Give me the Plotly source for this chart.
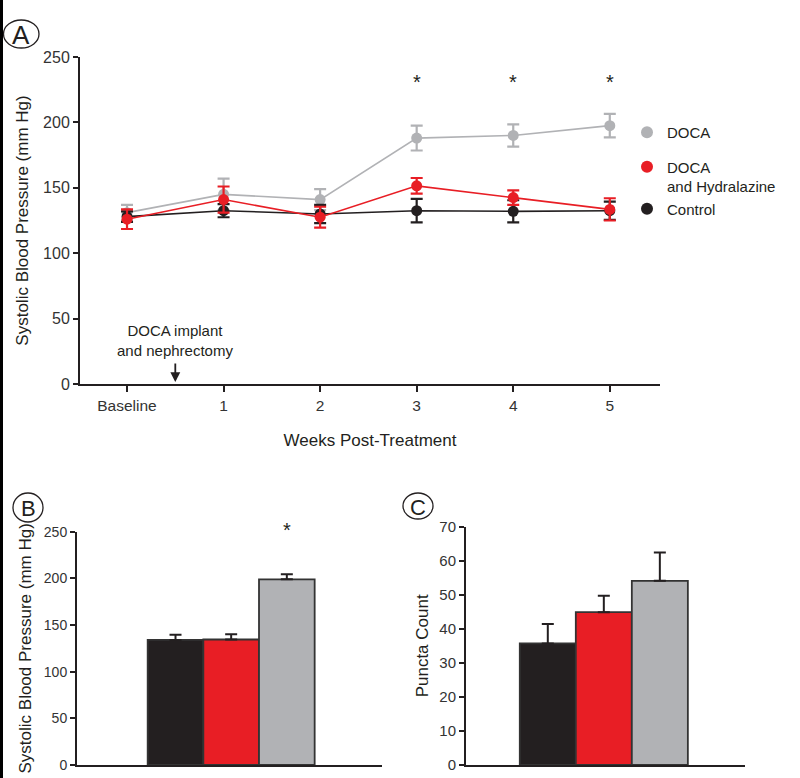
import plotly.graph_objects as go

# ---------------- data ----------------
weeks = [0, 1, 2, 3, 4, 5]
week_labels = ["Baseline", "1", "2", "3", "4", "5"]

doca_mean = [131, 145, 141, 188, 190, 197.5]
doca_err = [6, 12, 8, 9.5, 8.5, 9]
hyd_mean = [126, 141, 127.5, 151.5, 142.5, 133.5]
hyd_err = [7.5, 10, 8, 6, 5.5, 8.5]
ctrl_mean = [128, 132.5, 130, 132.5, 132, 132.5]
ctrl_err = [4, 5, 7, 9, 8.5, 7]

sig_weeks = [3, 4, 5]

groups = ["Control", "DOCA and Hydralazine", "DOCA"]
bar_pos = [0, 1, 2]
sbp_mean = [134, 134.5, 199]
sbp_err = [5.5, 5.5, 5.5]
puncta_mean = [35.7, 44.9, 54.1]
puncta_err = [5.7, 4.8, 8.3]

GRAY = "#b1b2b5"
RED = "#e81e25"
BLACK = "#231f20"
INK = "#231f20"
FONT = "Liberation Sans, Arial, sans-serif"

W, H = 800, 778


def px(x):
    return x / W


def py(y):
    return 1 - y / H


fig = go.Figure()

# ---------------- panel A lines ----------------
for name, m, e, c in [("DOCA", doca_mean, doca_err, GRAY),
                      ("Control", ctrl_mean, ctrl_err, BLACK),
                      ("DOCA and Hydralazine", hyd_mean, hyd_err, RED)]:
    fig.add_trace(go.Scatter(
        x=weeks, y=m, mode="lines+markers", name=name, showlegend=False,
        line=dict(color=c, width=1.6),
        marker=dict(color=c, size=11),
        error_y=dict(type="data", array=e, color=c, thickness=2.2, width=6),
        xaxis="x", yaxis="y"))

# legend entries (markers only)
legend_items = [("DOCA", GRAY, "g1"),
                ("DOCA<br>and Hydralazine", RED, "g2"),
                ("Control", BLACK, "g2")]
for i, (name, c, g) in enumerate(legend_items):
    fig.add_trace(go.Scatter(
        x=[None], y=[None], mode="markers", name=name, legendgroup=g,
        legendrank=i + 1,
        marker=dict(color=c, size=11), xaxis="x", yaxis="y"))

# ---------------- panel B bars ----------------
bar_colors = [BLACK, RED, GRAY]
fig.add_trace(go.Bar(
    x=bar_pos, y=sbp_mean, width=1, showlegend=False,
    marker=dict(color=bar_colors, line=dict(color="#333333", width=1.8)),
    error_y=dict(type="data", array=sbp_err, arrayminus=[0, 0, 0],
                 symmetric=False, color=INK, thickness=2, width=6),
    xaxis="x2", yaxis="y2"))

# ---------------- panel C bars ----------------
fig.add_trace(go.Bar(
    x=bar_pos, y=puncta_mean, width=1, showlegend=False,
    marker=dict(color=bar_colors, line=dict(color="#333333", width=1.8)),
    error_y=dict(type="data", array=puncta_err, arrayminus=[0, 0, 0],
                 symmetric=False, color=INK, thickness=2, width=6),
    xaxis="x3", yaxis="y3"))


def axis_common(size):
    return dict(showline=True, linewidth=2, linecolor=INK, showgrid=False,
                zeroline=False, ticks="outside", tickwidth=2, tickcolor=INK,
                tickfont=dict(family=FONT, size=size, color="#333333"),
                automargin=False)


title_font = dict(family=FONT, size=17, color=INK)

fig.update_layout(
    width=W, height=H,
    margin=dict(l=0, r=0, t=0, b=0),
    paper_bgcolor="white", plot_bgcolor="white",
    font=dict(family=FONT, color=INK),
    barmode="overlay",
    xaxis=dict(domain=[px(80), px(660)], range=[-0.487, 5.52],
               tickvals=weeks, ticktext=week_labels, ticklen=6,
               anchor="y",
               title=dict(text="Weeks Post-Treatment", standoff=22,
                          font=title_font),
               **axis_common(15.5)),
    yaxis=dict(domain=[py(384), py(57)], range=[0, 250], dtick=50, ticklen=5,
               anchor="x",
               title=dict(text="Systolic Blood Pressure (mm Hg)", standoff=10,
                          font=title_font),
               **axis_common(16)),
    xaxis2=dict(domain=[px(77), px(382)], range=[-1.77, 3.71],
                showticklabels=False, anchor="y2",
                **{**axis_common(14), "ticks": ""}),
    yaxis2=dict(domain=[py(765), py(531.7)], range=[0, 250], dtick=50,
                ticklen=5, anchor="x2",
                title=dict(text="Systolic Blood Pressure (mm Hg)", standoff=8,
                           font=title_font),
                **axis_common(14)),
    xaxis3=dict(domain=[px(466), px(745)], range=[-1.46, 3.52],
                showticklabels=False, anchor="y3",
                **{**axis_common(15), "ticks": ""}),
    yaxis3=dict(domain=[py(765), py(526.7)], range=[0, 70], dtick=10,
                ticklen=5, anchor="x3",
                title=dict(text="Puncta Count", standoff=6,
                           font=title_font),
                **axis_common(15)),
    legend=dict(x=px(627), y=py(116), xanchor="left", yanchor="top",
                bgcolor="rgba(0,0,0,0)", tracegroupgap=12, valign="top",
                font=dict(family=FONT, size=15, color=INK),
                itemsizing="constant", itemwidth=30),
)

annotations = []
for wk in sig_weeks:
    annotations.append(dict(x=wk, y=231, xref="x", yref="y", text="*",
                            showarrow=False,
                            font=dict(family=FONT, size=20, color=INK)))
annotations.append(dict(x=2, y=py(530), xref="x2", yref="paper", text="*",
                        showarrow=False, yanchor="middle",
                        font=dict(family=FONT, size=20, color=INK)))
# DOCA implant note + arrow
annotations.append(dict(x=0.5, y=33, xref="x", yref="y",
                        text="DOCA implant<br>and nephrectomy",
                        showarrow=False,
                        font=dict(family=FONT, size=15, color=INK)))
annotations.append(dict(x=0.5, y=1.5, xref="x", yref="y", ax=0, ay=-20,
                        axref="pixel", ayref="pixel", text="",
                        showarrow=True, arrowhead=2, arrowsize=1.1,
                        arrowwidth=1.8, arrowcolor=INK))
# panel letters
for letter, cx, cy, sz in [("A", 21, 35, 26), ("B", 28, 508, 22),
                           ("C", 418, 507, 22)]:
    annotations.append(dict(x=px(cx), y=py(cy), xref="paper", yref="paper",
                            xanchor="center", yanchor="middle",
                            text=letter, showarrow=False,
                            font=dict(family=FONT, size=sz, color=INK)))
fig.update_layout(annotations=annotations)

shapes = [
    dict(type="circle", xref="paper", yref="paper",
         x0=px(3.5), x1=px(39), y0=py(48), y1=py(20),
         line=dict(color=INK, width=1.3)),
    dict(type="circle", xref="paper", yref="paper",
         x0=px(13), x1=px(43), y0=py(522), y1=py(493),
         line=dict(color=INK, width=1.3)),
    dict(type="circle", xref="paper", yref="paper",
         x0=px(403), x1=px(433), y0=py(519), y1=py(493),
         line=dict(color=INK, width=1.3)),
    # scan edge strip at far left
    dict(type="rect", xref="paper", yref="paper",
         x0=0, x1=px(3), y0=0, y1=1, line=dict(width=0), fillcolor="black"),
]
fig.update_layout(shapes=shapes)

fig.write_html("out.html",
               config={"displayModeBar": False},
               post_script="document.body.style.margin='0px';"
                           "document.body.style.overflow='hidden';")
